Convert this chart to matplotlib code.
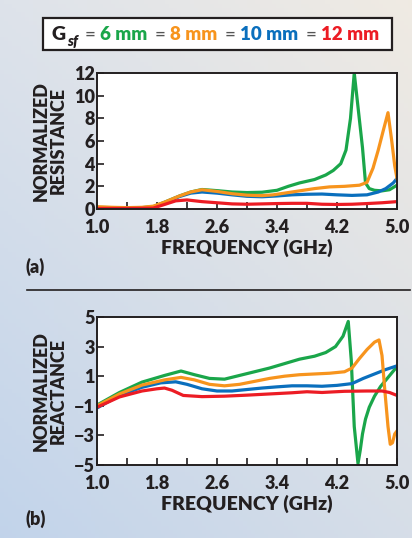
import numpy as np
import matplotlib
matplotlib.use("Agg")
import matplotlib.pyplot as plt
from matplotlib.patches import Rectangle

plt.rcParams['font.family'] = ['Lato', 'DejaVu Sans']
plt.rcParams['font.weight'] = 'bold'

DARK = '#231f20'
GREEN = '#1aa64a'
ORANGE = '#f7941d'
BLUE = '#0a6fbd'
RED = '#ec1c24'

# --- (a) normalized resistance ---
f_r_green = [1.0, 1.2, 1.4, 1.6, 1.75, 1.9, 2.1, 2.25, 2.4, 2.6, 2.8, 3.0, 3.2, 3.4, 3.55, 3.7,
             3.9, 4.05, 4.15, 4.25, 4.32, 4.38, 4.43, 4.48, 4.54, 4.58, 4.63, 4.7, 4.8, 4.9, 5.0]
r_green = [0.15, 0.12, 0.1, 0.12, 0.2, 0.6, 1.15, 1.5, 1.72, 1.62, 1.5, 1.45, 1.48, 1.65, 2.0, 2.3,
           2.6, 3.0, 3.4, 4.0, 5.2, 8.0, 12.0, 9.0, 5.4, 2.3, 1.8, 1.65, 1.6, 1.7, 2.1]

f_r_orange = [1.0, 1.2, 1.4, 1.6, 1.75, 1.9, 2.1, 2.25, 2.4, 2.6, 2.8, 3.0, 3.2, 3.35, 3.5, 3.7,
              3.9, 4.1, 4.3, 4.5, 4.6, 4.68, 4.75, 4.82, 4.88, 4.93, 4.97, 5.0]
r_orange = [0.2, 0.15, 0.12, 0.15, 0.25, 0.6, 1.15, 1.5, 1.7, 1.55, 1.35, 1.22, 1.18, 1.25, 1.4, 1.6,
            1.8, 1.95, 2.0, 2.1, 2.35, 3.6, 5.2, 7.0, 8.5, 6.0, 3.8, 2.7]

f_r_blue = [1.0, 1.4, 1.75, 1.9, 2.1, 2.25, 2.4, 2.6, 2.8, 3.0, 3.2, 3.4, 3.6, 3.8, 4.0, 4.2,
            4.4, 4.6, 4.75, 4.85, 4.95, 5.0]
r_blue = [0.1, 0.08, 0.15, 0.55, 1.1, 1.4, 1.5, 1.4, 1.25, 1.12, 1.08, 1.15, 1.25, 1.3, 1.32, 1.25,
          1.2, 1.25, 1.5, 1.8, 2.3, 2.7]

f_r_red = [1.0, 1.4, 1.75, 1.9, 2.05, 2.2, 2.4, 2.6, 2.8, 3.0, 3.2, 3.4, 3.6, 3.8, 4.0, 4.2,
           4.4, 4.6, 4.8, 5.0]
r_red = [0.05, 0.05, 0.08, 0.4, 0.72, 0.8, 0.65, 0.55, 0.45, 0.42, 0.45, 0.48, 0.5, 0.5, 0.42, 0.4,
         0.42, 0.48, 0.55, 0.65]

# --- (b) normalized reactance ---
f_x_green = [1.0, 1.3, 1.6, 1.9, 2.12, 2.3, 2.5, 2.7, 2.9, 3.1, 3.3, 3.5, 3.7, 3.9, 4.05, 4.18,
             4.28, 4.35, 4.39, 4.43, 4.48, 4.51, 4.54, 4.58, 4.63, 4.7, 4.78, 4.87, 5.0]
x_green = [-0.95, -0.1, 0.6, 1.05, 1.35, 1.1, 0.85, 0.8, 1.05, 1.3, 1.55, 1.85, 2.15, 2.35, 2.6, 3.0,
           3.7, 4.7, 2.1, -2.4, -4.9, -4.0, -2.9, -1.9, -1.1, -0.35, 0.3, 0.85, 1.65]

f_x_orange = [1.0, 1.3, 1.6, 1.9, 2.12, 2.3, 2.5, 2.7, 2.9, 3.1, 3.3, 3.5, 3.7, 3.9, 4.1, 4.3,
              4.4, 4.5, 4.6, 4.7, 4.76, 4.8, 4.84, 4.88, 4.91, 4.94, 4.97, 5.0]
x_orange = [-1.0, -0.2, 0.4, 0.75, 0.92, 0.75, 0.45, 0.35, 0.45, 0.65, 0.85, 1.0, 1.1, 1.15, 1.2, 1.3,
            1.55, 2.2, 2.8, 3.3, 3.45, 2.4, -0.1, -2.4, -3.6, -3.5, -2.9, -2.7]

f_x_blue = [1.0, 1.3, 1.6, 1.85, 2.05, 2.2, 2.4, 2.6, 2.8, 3.0, 3.2, 3.4, 3.6, 3.8, 4.0, 4.2,
            4.4, 4.55, 4.7, 4.85, 5.0]
x_blue = [-1.15, -0.3, 0.25, 0.55, 0.62, 0.45, 0.15, 0.0, 0.0, 0.1, 0.2, 0.28, 0.35, 0.35, 0.32, 0.38,
          0.5, 0.85, 1.15, 1.45, 1.7]

f_x_red = [1.0, 1.3, 1.6, 1.8, 1.9, 2.0, 2.15, 2.4, 2.7, 3.0, 3.3, 3.6, 3.8, 4.0, 4.3, 4.6,
           4.8, 4.9, 5.0]
x_red = [-1.1, -0.4, 0.0, 0.15, 0.2, 0.05, -0.3, -0.38, -0.35, -0.28, -0.2, -0.12, -0.05, -0.1, -0.02, 0.0,
         0.0, -0.1, -0.3]

x_ticks_major = [1.0, 1.8, 2.6, 3.4, 4.2, 5.0]
x_ticks_minor = [1.4, 2.2, 3.0, 3.8, 4.6]
r_ticks = [0, 2, 4, 6, 8, 10, 12]
x_ticks_react = [-5, -3, -1, 1, 3, 5]

legend_parts = [('6 mm', GREEN), ('8 mm', ORANGE), ('10 mm', BLUE), ('12 mm', RED)]

fig = plt.figure(figsize=(4.12, 5.38), dpi=100)

# background gradient
bg = fig.add_axes([0, 0, 1, 1])
bg.set_axis_off()
tl = np.array([0.87, 0.89, 0.92])
tr = np.array([0.94, 0.92, 0.89])
bl = np.array([0.76, 0.83, 0.92])
br = np.array([0.84, 0.87, 0.91])
u = np.linspace(0, 1, 100)[None, :, None]
v = np.linspace(0, 1, 130)[:, None, None]
img = (1 - v) * ((1 - u) * tl + u * tr) + v * ((1 - u) * bl + u * br)
bg.imshow(img, extent=[0, 1, 0, 1], aspect='auto', origin='upper')
bg.set_xlim(0, 1)
bg.set_ylim(0, 1)

# legend box
bg.add_patch(Rectangle((43 / 412, 1 - 50 / 538), 349 / 412, 32 / 538,
                       facecolor='white', edgecolor=DARK, lw=1.6, zorder=2))
t = bg.text(52 / 412, 1 - 35 / 538, 'G', fontsize=14, color=DARK, va='center', ha='left',
            fontweight='heavy', zorder=3)
t = bg.annotate('sf', xy=(1, 0), xycoords=t, xytext=(0.5, -3), textcoords='offset points',
                fontsize=10.5, style='italic', color=DARK, fontweight='heavy', va='bottom', zorder=3)
for label, col in legend_parts:
    t = bg.annotate('=', xy=(1, 0), xycoords=t, xytext=(5, 3 if t.get_text() == 'sf' else 0),
                    textcoords='offset points', fontsize=13.5, color='#555555', va='bottom',
                    fontweight='normal', zorder=3)
    t = bg.annotate(label, xy=(1, 0), xycoords=t, xytext=(3.5, 0), textcoords='offset points',
                    fontsize=13.5, color=col, fontweight='heavy', va='bottom', zorder=3)

# separator
bg.plot([27 / 412, 410 / 412], [1 - 290 / 538, 1 - 290 / 538], color=DARK, lw=1.2)


def style_axes(ax):
    for s in ax.spines.values():
        s.set_color(DARK)
        s.set_linewidth(1.4)
    ax.set_facecolor('white')
    ax.set_xlim(1.0, 5.0)
    ax.set_xticks(x_ticks_major)
    ax.set_xticks(x_ticks_minor, minor=True)
    ax.set_xticklabels([f'{v:.1f}' for v in x_ticks_major])
    ax.tick_params(axis='both', which='both', direction='in', length=5, width=1.2,
                   color=DARK, labelsize=13, labelcolor=DARK, pad=1.5)
    ax.tick_params(axis='x', pad=7)
    for lab in ax.get_xticklabels() + ax.get_yticklabels():
        lab.set_fontweight('heavy')
    ax.set_xlabel('FREQUENCY (GHz)', fontsize=14, fontweight='heavy', color=DARK, labelpad=2)


lw = 2.3

ax1 = fig.add_axes([97 / 412, 1 - 209 / 538, 300 / 412, 136 / 538])
ax1.plot(f_r_green, r_green, color=GREEN, lw=lw, solid_joinstyle='round')
ax1.plot(f_r_blue, r_blue, color=BLUE, lw=lw, solid_joinstyle='round')
ax1.plot(f_r_orange, r_orange, color=ORANGE, lw=lw, solid_joinstyle='round')
ax1.plot(f_r_red, r_red, color=RED, lw=lw, solid_joinstyle='round')
ax1.set_ylim(0, 12)
ax1.set_yticks(r_ticks)
style_axes(ax1)
ax1.set_ylabel('NORMALIZED\nRESISTANCE', fontsize=13, fontweight='heavy', color=DARK,
               linespacing=1.05, labelpad=5)

ax2 = fig.add_axes([97 / 412, 1 - 465 / 538, 300 / 412, 148 / 538])
ax2.plot(f_x_green, x_green, color=GREEN, lw=lw, solid_joinstyle='round')
ax2.plot(f_x_blue, x_blue, color=BLUE, lw=lw, solid_joinstyle='round')
ax2.plot(f_x_orange, x_orange, color=ORANGE, lw=lw, solid_joinstyle='round')
ax2.plot(f_x_red, x_red, color=RED, lw=lw, solid_joinstyle='round')
ax2.set_ylim(-5, 5)
ax2.set_yticks(x_ticks_react)
style_axes(ax2)
ax2.set_ylabel('NORMALIZED\nREACTANCE', fontsize=13, fontweight='heavy', color=DARK,
               linespacing=1.05, labelpad=5)

bg.text(26 / 412, 1 - 267 / 538, '(a)', fontsize=13, fontweight='heavy', color=DARK,
        va='center', ha='left')
bg.text(26 / 412, 1 - 519 / 538, '(b)', fontsize=13, fontweight='heavy', color=DARK,
        va='center', ha='left')

fig.savefig('out.png', dpi=100)
